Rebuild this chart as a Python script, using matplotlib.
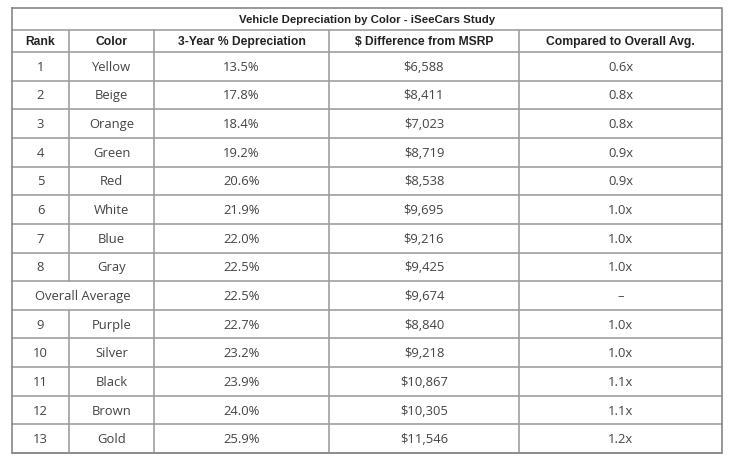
"""
Vehicle depreciation by color table (iSeeCars study)
"""
import matplotlib.pyplot as plt

title = "Vehicle Depreciation by Color - iSeeCars Study"
headers = ["Rank", "Color", "3-Year % Depreciation", "$ Difference from MSRP", "Compared to Overall Avg."]

ranks = ["1", "2", "3", "4", "5", "6", "7", "8", None, "9", "10", "11", "12", "13"]
colors = ["Yellow", "Beige", "Orange", "Green", "Red", "White", "Blue", "Gray",
          "Overall Average", "Purple", "Silver", "Black", "Brown", "Gold"]
depreciation = ["13.5%", "17.8%", "18.4%", "19.2%", "20.6%", "21.9%", "22.0%", "22.5%",
                "22.5%", "22.7%", "23.2%", "23.9%", "24.0%", "25.9%"]
msrp_diff = ["$6,588", "$8,411", "$7,023", "$8,719", "$8,538", "$9,695", "$9,216", "$9,425",
             "$9,674", "$8,840", "$9,218", "$10,867", "$10,305", "$11,546"]
vs_avg = ["0.6x", "0.8x", "0.8x", "0.9x", "0.9x", "1.0x", "1.0x", "1.0x",
          "\u2013", "1.0x", "1.0x", "1.1x", "1.1x", "1.2x"]

if __name__ == "__main__":
    fig = plt.figure(figsize=(7.3, 4.68), dpi=100)
    ax = fig.add_axes([0, 0, 1, 1])
    ax.set_xlim(0, 730)
    ax.set_ylim(468, 0)
    ax.axis("off")

    # layout in pixels
    col_x = [12, 69, 154, 329, 519, 722]
    top, title_bot, head_bot, bottom = 8, 30, 52, 453
    n = len(colors)
    row_h = (bottom - head_bot) / n
    dy = 1  # small nudge so text sits like the original
    line_col = "#a0a0a0"
    border_col = "#888888"
    body_col = "#444444"
    head_col = "#222222"
    body_font = "Open Sans"
    head_font = "Liberation Sans"
    body_size = 9.4

    # title row
    ax.text((col_x[0] + col_x[-1]) / 2, (top + title_bot) / 2 + dy, title, ha="center", va="center",
            fontsize=8.2, fontweight="bold", family=head_font, color=head_col)
    # header row
    for i, h in enumerate(headers):
        ax.text((col_x[i] + col_x[i + 1]) / 2, (title_bot + head_bot) / 2 + dy, h, ha="center", va="center",
                fontsize=8.7, fontweight="bold", family=head_font, color=head_col)

    # body rows
    for r in range(n):
        yc = head_bot + (r + 0.5) * row_h + dy
        y0 = head_bot + r * row_h
        y1 = y0 + row_h
        vals = [ranks[r], colors[r], depreciation[r], msrp_diff[r], vs_avg[r]]
        if ranks[r] is None:
            # merged cell for overall average
            ax.text((col_x[0] + col_x[2]) / 2, yc, colors[r], ha="center", va="center",
                    fontsize=body_size, family=body_font, color=body_col)
            start = 2
        else:
            start = 0
        for i in range(start, 5):
            ax.text((col_x[i] + col_x[i + 1]) / 2, yc, vals[i], ha="center", va="center",
                    fontsize=body_size, family=body_font, color=body_col)
        # vertical lines for this row
        for i in range(1, 5):
            if ranks[r] is None and i == 1:
                continue
            ax.plot([col_x[i], col_x[i]], [y0, y1], color=line_col, lw=1.2)
        ax.plot([col_x[0], col_x[-1]], [y1, y1], color=line_col, lw=1.2)

    # header lines
    for i in range(1, 5):
        ax.plot([col_x[i], col_x[i]], [title_bot, head_bot], color=line_col, lw=1.2)
    ax.plot([col_x[0], col_x[-1]], [title_bot, title_bot], color=line_col, lw=1.2)
    ax.plot([col_x[0], col_x[-1]], [head_bot, head_bot], color=line_col, lw=1.2)

    # outer border
    ax.plot([col_x[0], col_x[-1], col_x[-1], col_x[0], col_x[0]],
            [top, top, bottom, bottom, top], color=border_col, lw=1.2)

    fig.savefig("out.png", dpi=100)
